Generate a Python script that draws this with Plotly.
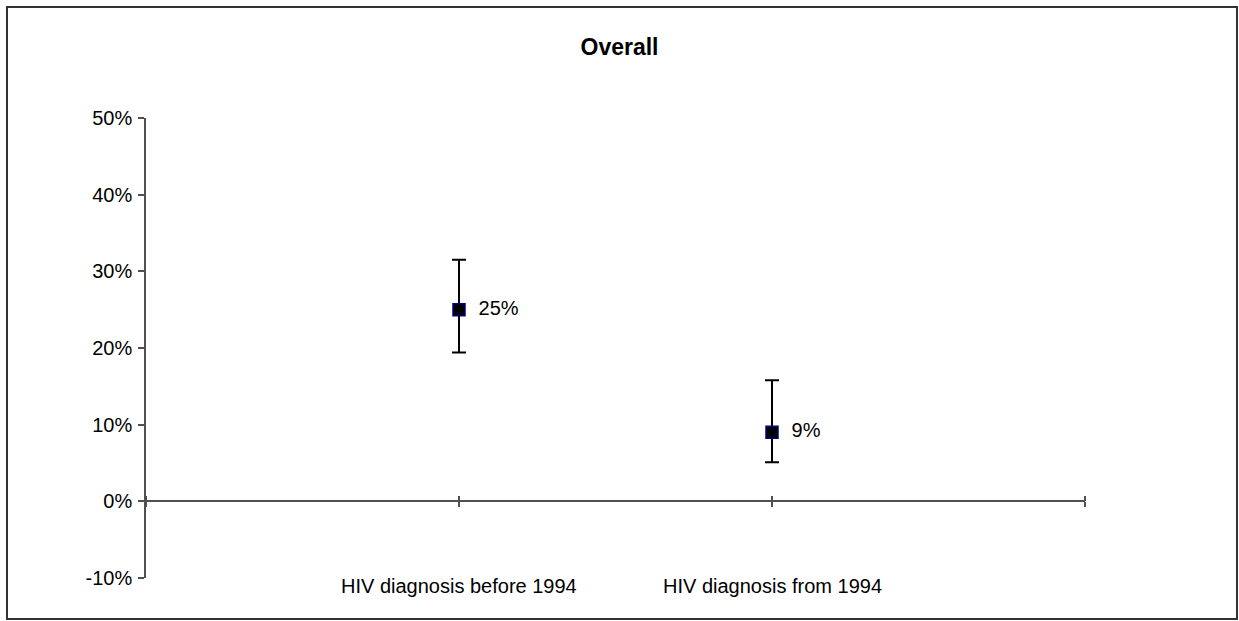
import plotly.graph_objects as go

categories = ["HIV diagnosis before 1994", "HIV diagnosis from 1994"]
cat_pos = [1, 2]
values = [0.25, 0.09]
lower = [0.194, 0.051]
upper = [0.315, 0.158]
y_ticks = [-0.1, 0.0, 0.1, 0.2, 0.3, 0.4, 0.5]
y_ticktext = ["-10%", "0%", "10%", "20%", "30%", "40%", "50%"]
x_bounds = [0, 1, 2, 3]

FONT = "Liberation Sans, Arial, sans-serif"
AX = "#505050"

err_plus = [u - v for u, v in zip(upper, values)]
err_minus = [v - l for v, l in zip(values, lower)]

fig = go.Figure()
fig.add_trace(go.Scatter(
    x=cat_pos, y=values, mode="markers+text",
    marker=dict(symbol="square", size=12, color="black",
                line=dict(color="#000080", width=1.5)),
    text=[f"  {round(v*100)}%" for v in values],
    textposition="middle right",
    textfont=dict(family=FONT, size=20, color="black"),
    error_y=dict(type="data", symmetric=False, array=err_plus,
                 arrayminus=err_minus, color="black", thickness=2, width=7),
    showlegend=False, cliponaxis=False,
))

W, H = 1239, 621
L, R, T, B = 146, 1085, 118, 578
pw, ph = R - L, B - T
zero_pos = (0 - y_ticks[0]) / (y_ticks[-1] - y_ticks[0])

fig.update_layout(
    width=W, height=H,
    margin=dict(l=L, r=W - R, t=T, b=H - B),
    paper_bgcolor="white", plot_bgcolor="white",
    font=dict(family=FONT, size=20, color="black"),
    title=dict(text="<b>Overall</b>", x=0.5, xanchor="center",
               y=1 - 47 / H, yanchor="middle",
               font=dict(family=FONT, size=23, color="black")),
    xaxis=dict(range=[x_bounds[0], x_bounds[-1]], showticklabels=False,
               showline=False, showgrid=False, zeroline=False, ticks=""),
    yaxis=dict(range=[y_ticks[0], y_ticks[-1]], tickvals=y_ticks,
               ticktext=y_ticktext, showline=True, linecolor=AX, linewidth=1.5,
               ticks="outside", ticklen=6, tickcolor=AX, tickwidth=1.5,
               showgrid=False, zeroline=False, ticklabelstandoff=2,
               tickfont=dict(size=20)),
    xaxis2=dict(overlaying="x", anchor="free", position=zero_pos,
                range=[x_bounds[0], x_bounds[-1]], tickvals=x_bounds,
                showticklabels=False, showline=True, linecolor=AX,
                linewidth=1.5, ticks="outside", ticklen=5, tickcolor=AX,
                tickwidth=1.5, showgrid=False, zeroline=False),
    xaxis3=dict(overlaying="x", anchor="free", side="top", position=zero_pos,
                range=[x_bounds[0], x_bounds[-1]], tickvals=x_bounds,
                showticklabels=False, showline=False,
                ticks="outside", ticklen=5, tickcolor=AX,
                tickwidth=1.5, showgrid=False, zeroline=False),
)
fig.add_trace(go.Scatter(x=[x_bounds[0]], y=[None], xaxis="x2",
                         showlegend=False, hoverinfo="skip"))
fig.add_trace(go.Scatter(x=[x_bounds[0]], y=[None], xaxis="x3",
                         showlegend=False, hoverinfo="skip"))

for xp, lab in zip(cat_pos, categories):
    fig.add_annotation(x=xp, xref="x", y=0, yref="paper", text=lab,
                       showarrow=False, yanchor="middle", xanchor="center",
                       yshift=-8, font=dict(family=FONT, size=20, color="black"))

fig.add_shape(type="rect", xref="paper", yref="paper",
              x0=(7 - L) / pw, x1=(1237 - L) / pw,
              y0=(B - 619) / ph, y1=(B - 7) / ph,
              line=dict(color="#333333", width=2), layer="below")

fig.write_html("out.html", config={"displayModeBar": False},
               post_script="document.body.style.margin='0';")
